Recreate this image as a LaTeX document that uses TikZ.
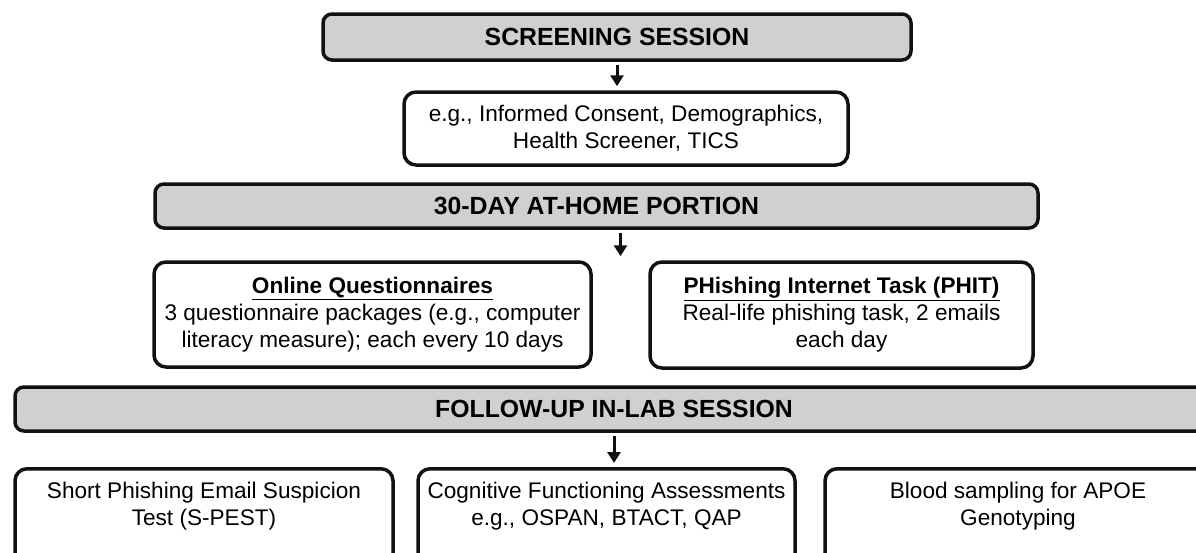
\documentclass[tikz,border=0pt]{standalone}
\usepackage{fontspec}
\setmainfont{Liberation Sans}
\usetikzlibrary{arrows.meta,calc}
\definecolor{barfill}{HTML}{D0D0D0}
\definecolor{ink}{HTML}{111111}
\tikzset{
  phase/.style={draw=ink, line width=3.5pt, rounded corners=9pt, fill=barfill, inner sep=0pt,
    font=\bfseries\fontsize{24.8}{29}\selectfont},
  info/.style={draw=ink, line width=3.5pt, rounded corners=12pt, fill=white, inner sep=0pt,
    align=center, font=\fontsize{22.6}{27}\selectfont},
  flow/.style={-{Triangle[length=11pt,width=13pt]}, line width=3pt, draw=ink,
    shorten <=3pt, shorten >=4pt}
}
\begin{document}
\begin{tikzpicture}[x=1pt,y=-1pt]
  \useasboundingbox (0,0) rectangle (1196,552);
  \clip (0,0) rectangle (1196,552);
  % screening
  \node[phase, minimum width=588pt, minimum height=46pt] (screening) at (617,37) {SCREENING SESSION};
  \node[info, minimum width=444pt, minimum height=73pt] (consent) at (626,128.5)
    {e.g., Informed Consent, Demographics,\\Health Screener, TICS};
  \draw[flow] (screening.south) -- (screening.south |- consent.north);
  % at-home part
  \node[phase, minimum width=883pt, minimum height=44pt] (home) at (596.5,206) {30-DAY AT-HOME PORTION};
  \node[info, minimum width=437pt, minimum height=105pt] (online) at (372.5,314.5)
    {\underline{\textbf{Online Questionnaires}}\\3 questionnaire packages (e.g., computer\\literacy measure); each every 10 days};
  \node[info, minimum width=383pt, minimum height=106pt] (phit) at (841.5,315)
    {\underline{\textbf{PHishing Internet Task (PHIT)}}\\Real-life phishing task, 2 emails\\each day};
  \coordinate (split) at ($(online.north east)!0.5!(phit.north west)$);
  \draw[flow] (home.south -| split) -- (split);
  % lab session, boxes run off the bottom
  \node[phase, minimum width=1198pt, minimum height=44pt] (lab) at (614,409) {FOLLOW-UP IN-LAB SESSION};
  \node[info, anchor=north, minimum width=378pt, inner ysep=13pt, text depth=110pt] (spest) at (204,467)
    {Short Phishing Email Suspicion\\Test (S-PEST)};
  \node[info, anchor=north, minimum width=377pt, inner ysep=13pt, text depth=110pt] (cog) at (606.5,467)
    {Cognitive Functioning Assessments\\e.g., OSPAN, BTACT, QAP};
  \node[info, anchor=north, minimum width=386pt, inner ysep=13pt, text depth=110pt] (blood) at (1018,467)
    {Blood sampling for APOE\\Genotyping};
  \draw[flow] (lab.south) -- (lab.south |- cog.north);
\end{tikzpicture}
\end{document}
